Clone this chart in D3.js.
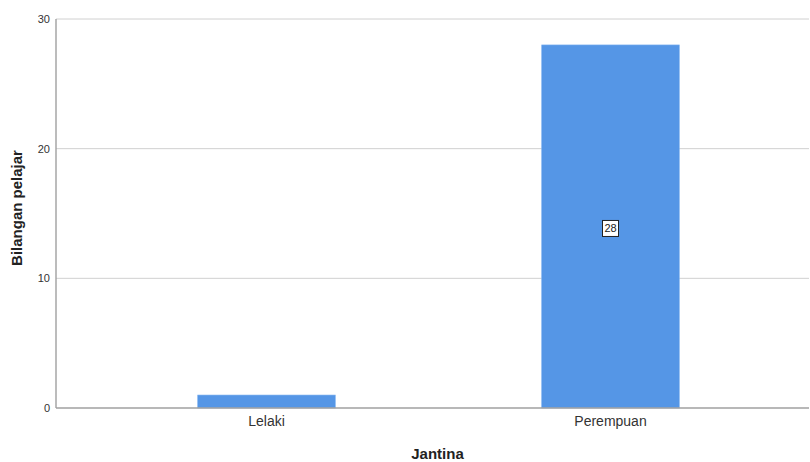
<!DOCTYPE html>
<html>
<head>
<meta charset="utf-8">
<script src="https://cdn.jsdelivr.net/npm/d3@7"></script>
<style>
  body { margin: 0; background: #fff; }
  text { font-family: Arial, "Liberation Sans", sans-serif; }
</style>
</head>
<body>
<script>
var categories = ['Lelaki', 'Perempuan'];
var counts = [1, 28];
var yTicks = [0, 10, 20, 30];
var xTitle = 'Jantina';
var yTitle = 'Bilangan pelajar';

var width = 810, height = 462;
// note: "top" is a read-only window global, so use plot* names
var plotLeft = 56, plotRight = 809, plotTop = 19, plotBottom = 408;

var svg = d3.select('body').append('svg')
  .attr('width', width).attr('height', height);

var y = d3.scaleLinear().domain([0, 30]).range([plotBottom, plotTop]);
var x = d3.scaleBand().domain(categories)
  .range([94.5, 782.5]).paddingInner(0.6).paddingOuter(0.3);

// gridlines
svg.append('g').selectAll('line')
  .data(yTicks.filter(function (d) { return d > 0; }))
  .enter().append('line')
  .attr('x1', plotLeft).attr('x2', plotRight)
  .attr('y1', function (d) { return y(d); })
  .attr('y2', function (d) { return y(d); })
  .attr('stroke', '#d0d0d0').attr('stroke-width', 1);

// bars
svg.append('g').selectAll('rect')
  .data(counts)
  .enter().append('rect')
  .attr('x', function (d, i) { return x(categories[i]); })
  .attr('width', x.bandwidth())
  .attr('y', function (d) { return y(d); })
  .attr('height', function (d) { return plotBottom - y(d); })
  .attr('fill', '#5596e6')
  .attr('stroke', '#7fb2f0').attr('stroke-width', 0.6);

// y axis
var yAxis = svg.append('g').attr('transform', 'translate(' + plotLeft + ',0)')
  .call(d3.axisLeft(y).tickValues(yTicks).tickSize(0).tickPadding(6));
yAxis.select('.domain').attr('stroke', '#a0a0a0').attr('stroke-width', 1.4)
  .attr('d', 'M0,' + plotTop + 'V' + plotBottom);
yAxis.selectAll('text').attr('font-size', 11).attr('fill', '#333');

// x axis
var xAxis = svg.append('g').attr('transform', 'translate(0,' + plotBottom + ')')
  .call(d3.axisBottom(x).tickSize(0).tickPadding(8));
xAxis.select('.domain').attr('stroke', '#a0a0a0').attr('stroke-width', 1.4)
  .attr('d', 'M' + plotLeft + ',0H' + plotRight);
xAxis.selectAll('text').attr('font-size', 14).attr('fill', '#333');

// value labels (only where bar is tall enough)
var labels = svg.append('g').selectAll('g')
  .data(counts.map(function (d, i) { return { c: categories[i], v: d }; })
    .filter(function (d) { return plotBottom - y(d.v) > 20; }))
  .enter().append('g')
  .attr('transform', function (d) {
    return 'translate(' + (x(d.c) + x.bandwidth() / 2) + ',' + (y(d.v / 2) + 2) + ')';
  });
labels.append('rect')
  .attr('x', -8).attr('y', -8).attr('width', 16).attr('height', 16)
  .attr('fill', '#fff').attr('stroke', '#222').attr('stroke-width', 1);
labels.append('text')
  .attr('text-anchor', 'middle').attr('dy', '0.35em')
  .attr('font-size', 11).attr('fill', '#222')
  .text(function (d) { return d.v; });

// titles
svg.append('text')
  .attr('x', (plotLeft + plotRight) / 2 + 5).attr('y', 459)
  .attr('text-anchor', 'middle').attr('font-size', 15).attr('font-weight', 'bold')
  .attr('fill', '#222').text(xTitle);
svg.append('text')
  .attr('transform', 'translate(22,208) rotate(-90)')
  .attr('text-anchor', 'middle').attr('font-size', 15).attr('font-weight', 'bold')
  .attr('fill', '#222').text(yTitle);
</script>
</body>
</html>
